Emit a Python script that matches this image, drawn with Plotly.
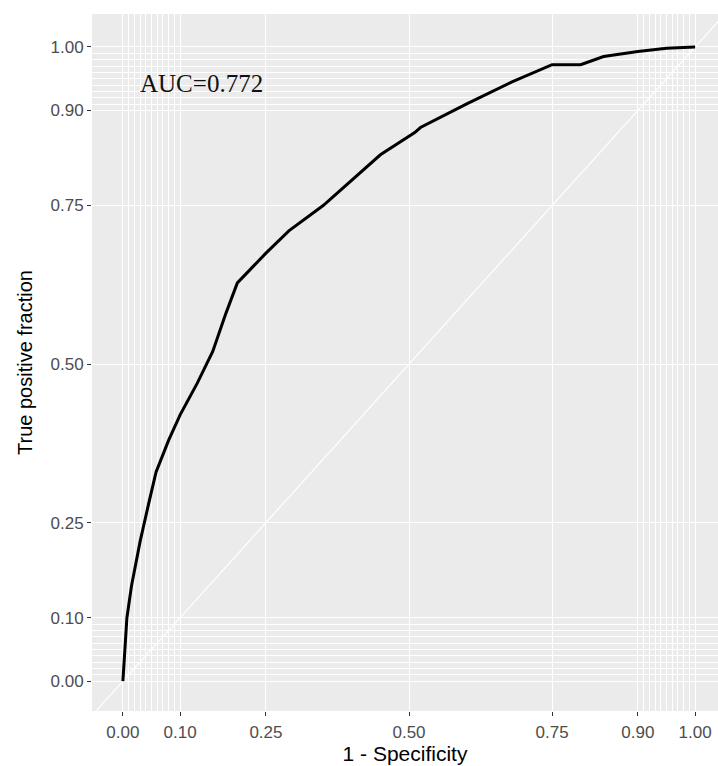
import plotly.graph_objects as go

# ROC curve data (1 - specificity, true positive fraction)
fpr = [0.0, 0.002, 0.005, 0.007, 0.015, 0.03, 0.045, 0.058, 0.08, 0.10, 0.13, 0.157,
       0.18, 0.20, 0.25, 0.29, 0.35, 0.40, 0.45, 0.51, 0.52, 0.60, 0.68, 0.75, 0.80,
       0.84, 0.90, 0.95, 1.0]
tpf = [0.0, 0.03, 0.08, 0.10, 0.15, 0.22, 0.28, 0.33, 0.38, 0.42, 0.47, 0.52,
       0.58, 0.628, 0.675, 0.71, 0.75, 0.79, 0.83, 0.865, 0.873, 0.91, 0.945, 0.972, 0.972,
       0.985, 0.993, 0.998, 1.0]

major_breaks = [0, 0.1, 0.25, 0.5, 0.75, 0.9, 1.0]
major_labels = ["0.00", "0.10", "0.25", "0.50", "0.75", "0.90", "1.00"]
minor_breaks = [round(i * 0.01, 2) for i in range(0, 11)] + [round(0.9 + i * 0.01, 2) for i in range(0, 11)]
auc_label = "AUC=0.772"

fig = go.Figure()
fig.add_trace(go.Scatter(x=[-0.1, 1.1], y=[-0.1, 1.1], mode="lines",
                         line=dict(color="white", width=1.2), hoverinfo="skip", showlegend=False))
fig.add_trace(go.Scatter(x=fpr, y=tpf, mode="lines",
                         line=dict(color="black", width=3), showlegend=False))

fig.add_annotation(x=0.138, y=0.942, text=auc_label, showarrow=False,
                   font=dict(family="Liberation Serif", size=25, color="#111111"))

axis_common = dict(
    tickvals=major_breaks, ticktext=major_labels,
    showgrid=True, gridcolor="white", gridwidth=1.2,
    zeroline=False, ticks="outside", ticklen=4, tickcolor="#333333", tickwidth=1,
    tickfont=dict(family="Liberation Sans", size=17, color="#4d4d4d"),
    minor=dict(tickvals=minor_breaks, showgrid=True, gridcolor="white", gridwidth=0.6, ticklen=0),
    showline=False,
)

fig.update_layout(
    width=718, height=766,
    margin=dict(l=92, r=0, t=14, b=55),
    paper_bgcolor="white", plot_bgcolor="#EBEBEB",
    xaxis=dict(range=[-0.054, 1.040], ticklabelstandoff=2,
               title=dict(text="1 - Specificity", font=dict(family="Liberation Sans", size=21, color="black"), standoff=3),
               **axis_common),
    yaxis=dict(range=[-0.047, 1.052],
               title=dict(text="True positive fraction", font=dict(family="Liberation Sans", size=20, color="black"), standoff=12),
               **axis_common),
)

fig.write_html("out.html")
